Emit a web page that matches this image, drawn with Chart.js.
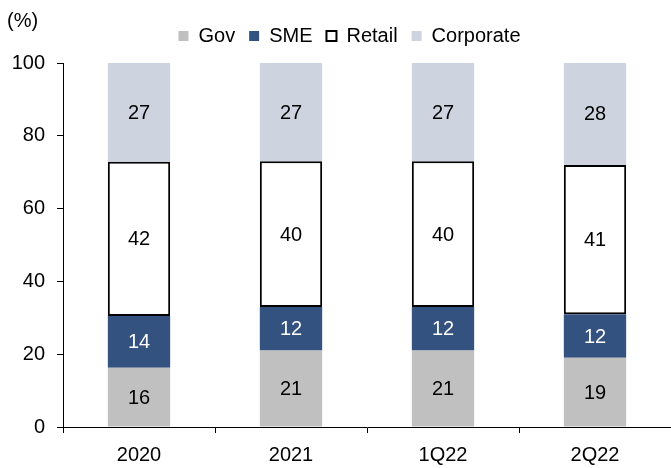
<!DOCTYPE html>
<html>
<head>
<meta charset="utf-8">
<script src="https://cdn.jsdelivr.net/npm/chart.js@4"></script>
<style>
  html, body { margin: 0; padding: 0; background: #fff; }
  #wrap { width: 671px; height: 468px; position: relative; }
</style>
</head>
<body>
<div id="wrap"><canvas id="c"></canvas></div>
<script>
const categories = ["2020", "2021", "1Q22", "2Q22"];
const govValues = [16.3, 21, 21, 19];
const smeValues = [14.2, 12, 12, 12];
const retailValues = [42.4, 40, 40, 41];
const corporateValues = [27.1, 27, 27, 28];
const yTicks = [0, 20, 40, 60, 80, 100];

const FONT = "'Liberation Sans', Arial, sans-serif";
const FS = 20;

const labelPlugin = {
  id: 'barLabels',
  afterDatasetsDraw(chart) {
    const ctx = chart.ctx;
    ctx.save();
    ctx.font = FS + "px " + FONT;
    ctx.textAlign = 'center';
    ctx.textBaseline = 'middle';
    chart.data.datasets.forEach((ds, i) => {
      const meta = chart.getDatasetMeta(i);
      meta.data.forEach((el, j) => {
        const v = ds.data[j];
        ctx.fillStyle = ds.labelColor;
        ctx.fillText(String(Math.round(v)), el.x, (el.y + el.base) / 2 + 1);
      });
    });
    ctx.restore();
  }
};

const unitPlugin = {
  id: 'unitLabel',
  afterInit(chart) {
    const lg = chart.legend;
    if (lg) {
      const orig = lg.fit.bind(lg);
      lg.fit = function () { orig(); this.height += 7; };
    }
  },
  afterLayout(chart) {
    if (chart.legend) { chart.legend.left += 28; }
  },
  afterDraw(chart) {
    const ctx = chart.ctx;
    ctx.save();
    ctx.font = FS + "px " + FONT;
    ctx.fillStyle = '#000';
    ctx.textAlign = 'left';
    ctx.textBaseline = 'middle';
    ctx.fillText('(%)', 7, 21);
    ctx.restore();
  }
};

new Chart(document.getElementById('c'), {
  type: 'bar',
  data: {
    labels: categories,
    datasets: [
      { label: 'Gov', data: govValues, backgroundColor: '#C0C0C0', borderWidth: 0, labelColor: '#000' },
      { label: 'SME', data: smeValues, backgroundColor: '#34527F', borderWidth: 0, labelColor: '#fff' },
      { label: 'Retail', data: retailValues, backgroundColor: '#FFFFFF', borderColor: '#000', borderWidth: 2, borderSkipped: false, labelColor: '#000' },
      { label: 'Corporate', data: corporateValues, backgroundColor: '#CDD4E0', borderWidth: 0, labelColor: '#000' }
    ]
  },
  options: {
    responsive: true,
    maintainAspectRatio: false,
    animation: false,
    devicePixelRatio: 1,
    layout: { padding: { top: 12, right: 0, bottom: 0, left: 0 } },
    datasets: { bar: { barPercentage: 0.41, categoryPercentage: 1.0 } },
    plugins: {
      tooltip: { enabled: false },
      legend: {
        position: 'top',
        align: 'center',
        labels: {
          font: { family: FONT, size: FS },
          color: '#000',
          boxWidth: 10,
          boxHeight: 10,
          padding: 14
        }
      }
    },
    scales: {
      x: {
        stacked: true,
        afterFit(scale) { scale.height = 41; },
        grid: { display: true, drawOnChartArea: false, drawTicks: true, tickLength: 6, color: '#000', offset: true },
        border: { display: true, color: '#000', width: 1 },
        ticks: { font: { family: FONT, size: FS }, color: '#000', padding: 10 }
      },
      y: {
        stacked: true,
        min: 0,
        max: 100,
        afterBuildTicks(scale) { scale.ticks = yTicks.map(v => ({ value: v })); },
        afterFit(scale) { scale.width = 63; },
        grid: { display: true, drawOnChartArea: false, drawTicks: true, tickLength: 6, color: '#000' },
        border: { display: true, color: '#000', width: 1 },
        ticks: { font: { family: FONT, size: FS }, color: '#000', padding: 12 }
      }
    }
  },
  plugins: [labelPlugin, unitPlugin]
});
</script>
</body>
</html>
